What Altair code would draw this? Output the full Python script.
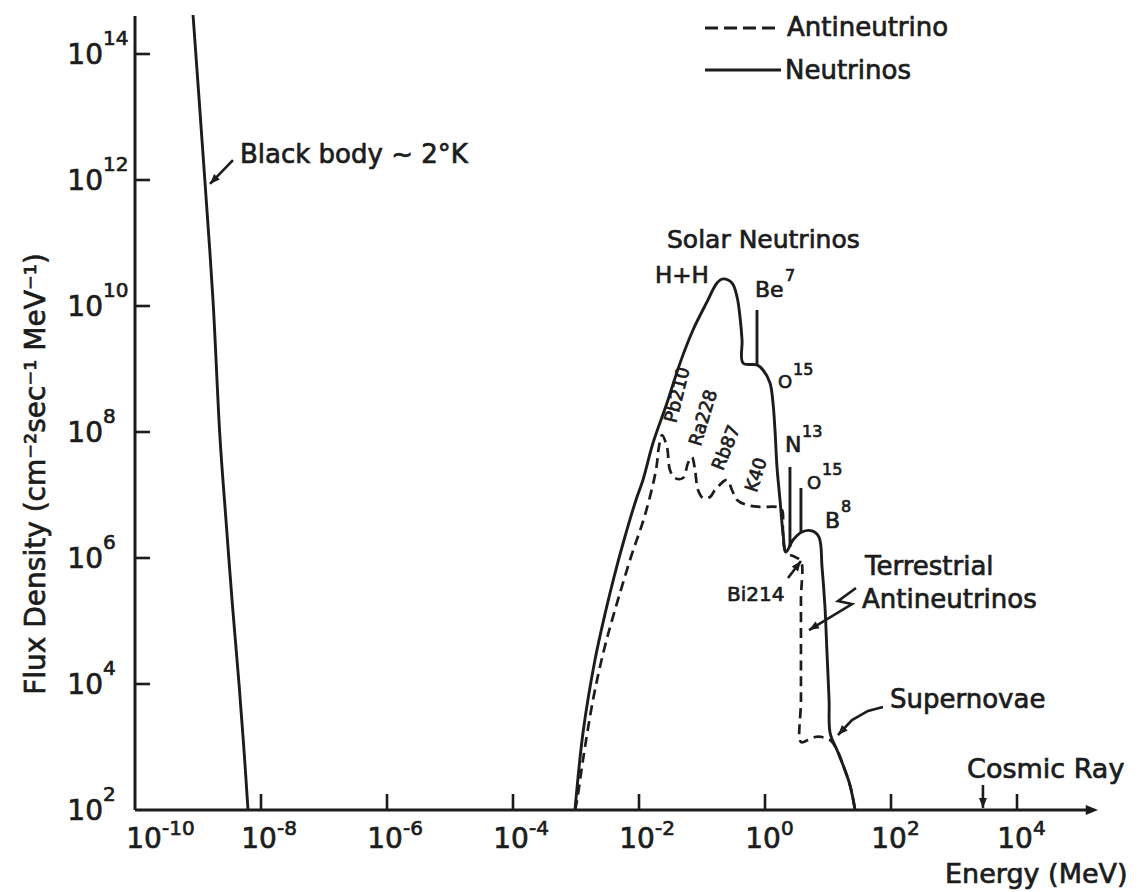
import altair as alt
import pandas as pd

INK = "#1c1c1c"
FONT = "DejaVu Sans"
EMB = 0.7  # glyph outline that gives the lettering its heavier pen weight

# ---- spectra: energy in MeV, flux density in cm^-2 sec^-1 MeV^-1 ----
# relic black-body neutrinos (~2 K)
bb_energy = [8.34e-10, 1.29e-9, 1.73e-9, 2.23e-9, 2.78e-9, 3.47e-9, 4.48e-9, 5.37e-9, 6.22e-9]
bb_flux = [4.16e14, 9.29e11, 1.24e10, 8.34e7, 4.01e6, 2.15e5, 1.0e4, 8.95e2, 1.0e2]

# solar + supernova neutrinos (solid)
nu_energy = [9.64e-4, 1.29e-3, 2.00e-3, 2.99e-3, 4.01e-3, 5.78e-3, 8.95e-3, 1.156e-2, 1.667e-2,
             2.78e-2, 4.48e-2, 7.19e-2, 0.120, 0.173, 0.215, 0.299, 0.360, 0.401, 0.432, 0.448,
             0.746, 0.929, 1.20, 1.34, 1.44, 1.55, 1.73, 1.93, 2.15, 2.78, 3.86, 5.57, 7.19,
             8.04, 8.95, 9.64, 10.4, 10.8, 13.9, 17.3, 22.3, 26.9]
nu_flux = [1.0e2, 1.67e3, 2.40e4, 1.50e5, 4.99e5, 1.93e6, 8.34e6, 1.73e7, 6.68e7,
           2.88e8, 1.24e9, 4.16e9, 1.16e10, 2.32e10, 2.69e10, 2.32e10, 1.39e10, 6.68e9, 2.88e9, 1.24e9,
           1.16e9, 9.64e8, 6.00e8, 2.88e8, 1.08e8, 2.78e7, 8.34e6, 2.49e6, 1.24e6, 1.93e6, 2.59e6, 2.69e6, 2.15e6,
           7.19e5, 1.67e5, 3.10e4, 5.57e3, 1.67e3, 8.95e2, 5.18e2, 2.49e2, 1.0e2]

# terrestrial antineutrinos (dashed)
anu_energy = [9.64e-4, 1.04e-3, 1.29e-3, 1.86e-3, 2.78e-3, 4.16e-3, 7.46e-3, 1.245e-2, 1.86e-2,
              2.07e-2, 2.32e-2, 2.78e-2, 3.10e-2, 3.72e-2, 4.99e-2, 6.00e-2, 6.93e-2, 7.74e-2,
              8.65e-2, 0.104, 0.134, 0.161, 0.249, 0.299, 0.360, 0.518, 0.834, 1.55, 1.86, 1.93,
              2.15, 2.99, 3.72, 3.72, 3.72, 3.72, 4.82, 6.22, 8.04, 10.8, 13.9, 17.3, 22.3, 26.9]
anu_flux = [1.0e2, 1.44e2, 6.22e2, 5.57e3, 3.47e4, 1.50e5, 1.04e6, 4.82e6, 2.49e7,
            5.78e7, 8.95e7, 5.78e7, 2.49e7, 1.86e7, 1.86e7, 3.22e7, 4.01e7, 2.49e7,
            1.20e7, 8.95e6, 9.29e6, 1.20e7, 1.73e7, 1.20e7, 8.34e6, 6.93e6, 6.46e6, 6.46e6, 5.78e6, 2.49e6,
            1.24e6, 1.04e6, 8.95e5, 2.15e5, 5.57e3, 1.20e3, 1.29e3, 1.44e3, 1.44e3, 1.29e3, 8.95e2, 5.18e2, 2.49e2, 1.0e2]

# solar line sources (Be7, N13, O15)
line_energy = [0.746, 2.49, 3.72]
line_top = [8.65e9, 2.78e7, 1.29e7]
line_base = [1.16e9, 1.50e6, 2.49e6]

# axis ticks
x_ticks = [1e-10, 1e-8, 1e-6, 1e-4, 1e-2, 1.0, 1e2, 1e4]
x_exps = ["-10", "-8", "-6", "-4", "-2", "0", "2", "4"]
y_ticks = [1e2, 1e4, 1e6, 1e8, 1e10, 1e12, 1e14]
y_exps = ["2", "4", "6", "8", "10", "12", "14"]

# ---- annotations anchored in data space ----
label_text = ["Black body ~ 2°K", "Solar Neutrinos", "Terrestrial", "Antineutrinos", "Supernovae",
              "Cosmic Ray", "H+H", "Be", "O", "N", "O", "B", "Bi214"]
label_energy = [4.64e-9, 2.78e-2, 38.6, 34.7, 96.4, 1.61e3, 1.795e-2, 0.693, 1.61, 2.08, 4.64, 8.95, 0.249]
label_flux = [2.49e12, 1.12e11, 7.19e5, 2.15e5, 5.57e3, 4.32e2, 2.99e10, 1.80e10, 6.00e8, 6.22e7, 1.50e7, 3.86e6, 2.59e5]
label_size = [26, 25, 26, 26, 26, 27, 23, 22, 18, 22, 18, 22, 20]

sup_text = ["7", "15", "13", "15", "8"]
sup_energy = [2.08, 2.78, 3.86, 8.04, 16.1]
sup_flux = [2.99e10, 9.64e8, 1.0e8, 2.49e7, 6.46e6]

iso_text = ["Pb210", "Ra228", "Rb87", "K40"]
iso_energy = [4.16e-2, 0.108, 0.249, 0.746]
iso_flux = [3.86e8, 1.67e8, 5.57e7, 2.07e7]
iso_angle = [284, 287, 292, 288]

# pointer arrows: (group, energy, flux) polyline, head at the last vertex
arrow_group = ["bb", "bb", "bi", "bi", "ter", "ter", "ter", "ter", "sn", "sn", "sn", "sn", "cr", "cr"]
arrow_energy = [3.59e-9, 1.55e-9, 2.32, 3.72, 27.8, 14.4, 24.0, 4.99, 74.6, 43.2, 24.0, 14.4, 2.88e3, 2.88e3]
arrow_flux = [2.07e12, 8.65e11, 4.82e5, 8.95e5, 3.34e5, 2.07e5, 1.86e5, 7.19e4, 4.32e3, 3.73e3, 2.68e3, 1.55e3, 2.49e2, 1.08e2]
head_energy = [1.55e-9, 3.72, 4.99, 14.4, 2.88e3]
head_flux = [8.65e11, 8.95e5, 7.19e4, 1.55e3, 1.08e2]
head_angle = [224, 37, 239, 223, 180]

W, H = 963, 795
xs = alt.Scale(type="log", domain=[1e-10, 1.93e5], nice=False)
ys = alt.Scale(type="log", domain=[1e2, 4.16e14], nice=False)
HEAD = "M0,0L0.8,2L-0.8,2Z"


def xe(field="E"):
    return alt.X(f"{field}:Q", scale=xs, axis=None)


def ye(field="F"):
    return alt.Y(f"{field}:Q", scale=ys, axis=None)


def path(energy, flux):
    return pd.DataFrame({"E": energy, "F": flux, "i": list(range(len(energy)))})


def text_mark(**kw):
    base = dict(font=FONT, color=INK, stroke=INK, strokeWidth=EMB, baseline="middle")
    base.update(kw)
    return base


one = pd.DataFrame({"k": [0]})
layers = []

# spectra
layers.append(alt.Chart(path(bb_energy, bb_flux)).mark_line(color=INK, strokeWidth=2.9, interpolate="catmull-rom")
              .encode(x=xe(), y=ye(), order=alt.Order("i:Q")))
layers.append(alt.Chart(path(anu_energy, anu_flux))
              .mark_line(color=INK, strokeWidth=2.7, strokeDash=[10, 6], interpolate="catmull-rom")
              .encode(x=xe(), y=ye(), order=alt.Order("i:Q")))
layers.append(alt.Chart(path(nu_energy, nu_flux)).mark_line(color=INK, strokeWidth=2.9, interpolate="catmull-rom")
              .encode(x=xe(), y=ye(), order=alt.Order("i:Q")))
lines_df = pd.DataFrame({"E": line_energy, "top": line_top, "base": line_base})
layers.append(alt.Chart(lines_df).mark_rule(color=INK, strokeWidth=2.9)
              .encode(x=xe(), y=ye("top"), y2=alt.Y2("base:Q")))

# axes drawn by hand: inward ticks, arrowed energy axis
layers.append(alt.Chart(one).mark_rule(color=INK, strokeWidth=3)
              .encode(x=alt.value(0), y=alt.value(1), y2=alt.value(H)))
layers.append(alt.Chart(one).mark_rule(color=INK, strokeWidth=3)
              .encode(x=alt.value(0), x2=alt.value(W - 6), y=alt.value(H)))
layers.append(alt.Chart(one).mark_point(shape=HEAD, filled=True, size=150, color=INK, opacity=1, angle=90)
              .encode(x=alt.value(W), y=alt.value(H)))

xt = pd.DataFrame({"E": x_ticks, "exp": x_exps})
yt = pd.DataFrame({"F": y_ticks, "exp": y_exps})
layers.append(alt.Chart(xt[xt["E"] > 1e-10]).mark_rule(color=INK, strokeWidth=2.6)
              .encode(x=xe(), y=alt.value(H), y2=alt.value(H - 16)))
layers.append(alt.Chart(yt[yt["F"] > 1e2]).mark_rule(color=INK, strokeWidth=2.6)
              .encode(y=ye(), x=alt.value(0), x2=alt.value(15)))

# energy labels: the corner label sits a little right of the origin
xt_corner = xt[xt["E"] == 1e-10]
xt_rest = xt[xt["E"] > 1e-10]
for part, shift in ((xt_corner, 9), (xt_rest, -2)):
    layers.append(alt.Chart(part).mark_text(**text_mark(fontSize=28, align="center", dx=shift))
                  .encode(x=xe(), y=alt.value(H + 30), text=alt.value("10")))
    layers.append(alt.Chart(part).mark_text(**text_mark(fontSize=20, align="left", dx=shift + 18))
                  .encode(x=xe(), y=alt.value(H + 19), text="exp:N"))
layers.append(alt.Chart(yt).mark_text(**text_mark(fontSize=28, align="right", dy=2))
              .encode(y=ye(), x=alt.value(-32), text=alt.value("10")))
layers.append(alt.Chart(yt).mark_text(**text_mark(fontSize=20, align="left", dy=-15))
              .encode(y=ye(), x=alt.value(-32), text="exp:N"))

# axis titles
layers.append(alt.Chart(one).mark_text(**text_mark(fontSize=28, angle=270, align="center"))
              .encode(x=alt.value(-98), y=alt.value(459), text=alt.value("Flux Density (cm⁻²sec⁻¹ MeV⁻¹)")))
layers.append(alt.Chart(one).mark_text(**text_mark(fontSize=27, align="left"))
              .encode(x=alt.value(810), y=alt.value(860), text=alt.value("Energy (MeV)")))

# annotations
lab = pd.DataFrame({"t": label_text, "E": label_energy, "F": label_flux, "s": label_size})
layers.append(alt.Chart(lab).mark_text(**text_mark(align="left"))
              .encode(x=xe(), y=ye(), text="t:N", size=alt.Size("s:Q", scale=None)))
sup = pd.DataFrame({"t": sup_text, "E": sup_energy, "F": sup_flux})
layers.append(alt.Chart(sup).mark_text(**text_mark(fontSize=16, align="left"))
              .encode(x=xe(), y=ye(), text="t:N"))
iso = pd.DataFrame({"t": iso_text, "E": iso_energy, "F": iso_flux, "a": iso_angle})
layers.append(alt.Chart(iso).mark_text(**text_mark(fontSize=18, align="center"))
              .encode(x=xe(), y=ye(), text="t:N", angle=alt.Angle("a:Q", scale=None)))

arr = pd.DataFrame({"g": arrow_group, "E": arrow_energy, "F": arrow_flux, "i": list(range(len(arrow_group)))})
layers.append(alt.Chart(arr).mark_line(color=INK, strokeWidth=2.6)
              .encode(x=xe(), y=ye(), detail="g:N", order=alt.Order("i:Q")))
heads = pd.DataFrame({"E": head_energy, "F": head_flux, "a": head_angle})
layers.append(alt.Chart(heads).mark_point(shape=HEAD, filled=True, size=100, color=INK, opacity=1)
              .encode(x=xe(), y=ye(), angle=alt.Angle("a:Q", scale=None)))

# legend
layers.append(alt.Chart(one).mark_rule(color=INK, strokeWidth=3, strokeDash=[13, 6])
              .encode(x=alt.value(570), x2=alt.value(644), y=alt.value(13)))
layers.append(alt.Chart(one).mark_rule(color=INK, strokeWidth=3)
              .encode(x=alt.value(570), x2=alt.value(646), y=alt.value(55)))
layers.append(alt.Chart(one).mark_text(**text_mark(fontSize=26, align="left"))
              .encode(x=alt.value(652), y=alt.value(13), text=alt.value("Antineutrino")))
layers.append(alt.Chart(one).mark_text(**text_mark(fontSize=26, align="left"))
              .encode(x=alt.value(650), y=alt.value(56), text=alt.value("Neutrinos")))

chart = (
    alt.layer(*layers)
    .properties(width=W, height=H,
                padding={"left": 135, "top": 15, "right": 40, "bottom": 82},
                autosize=alt.AutoSizeParams(type="none"),
                background="white")
    .configure_view(stroke=None)
)

chart.save("out.html", embed_options={"renderer": "svg", "actions": False})
